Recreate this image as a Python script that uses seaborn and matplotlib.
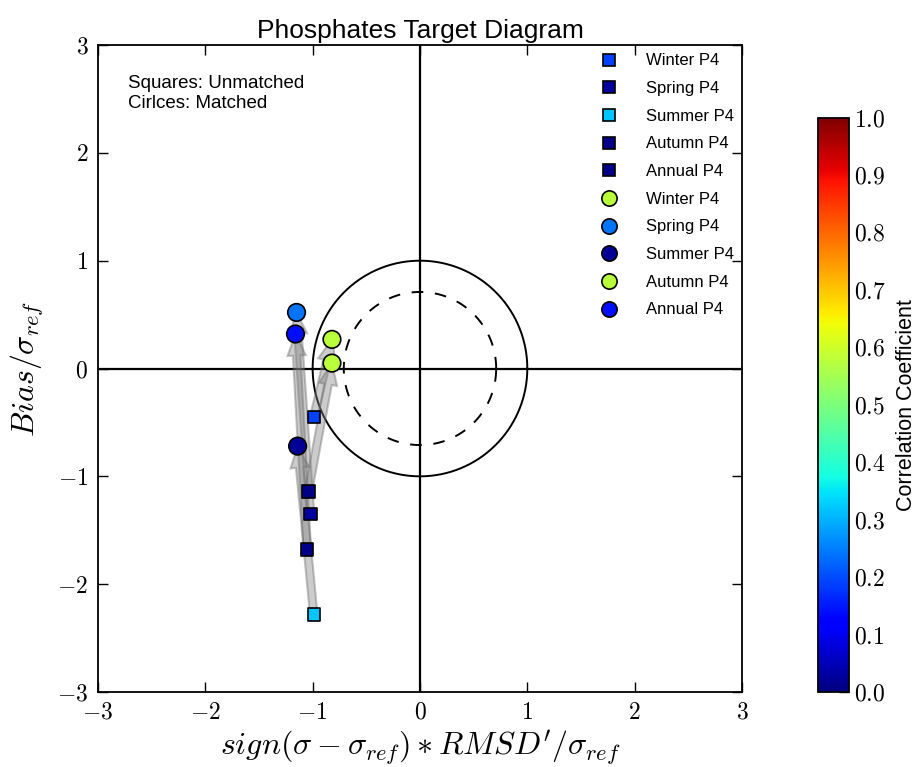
import numpy as np
import seaborn as sns
import matplotlib
matplotlib.use('Agg')
import matplotlib.pyplot as plt
from matplotlib.lines import Line2D
from matplotlib.ticker import FuncFormatter, MultipleLocator

# Target diagram values
seasons = ['Winter P4', 'Spring P4', 'Summer P4', 'Autumn P4', 'Annual P4']

# unmatched (squares)
rmsd_unmatched = [-0.99, -1.02, -0.99, -1.04, -1.05]
bias_unmatched = [-0.45, -1.35, -2.28, -1.14, -1.68]
corr_unmatched = [0.19, 0.03, 0.32, 0.01, 0.01]

# matched (circles)
rmsd_matched = [-0.82, -1.15, -1.14, -0.82, -1.16]
bias_matched = [0.27, 0.52, -0.72, 0.05, 0.32]
corr_matched = [0.575, 0.24, 0.02, 0.575, 0.14]

cbar_ticks = [0.0, 0.1, 0.2, 0.3, 0.4, 0.5, 0.6, 0.7, 0.8, 0.9, 1.0]

sns.set_style('ticks')
plt.rcParams['font.family'] = ['Liberation Sans', 'DejaVu Sans']
plt.rcParams['mathtext.fontset'] = 'cm'
plt.rcParams['xtick.direction'] = 'in'
plt.rcParams['ytick.direction'] = 'in'
plt.rcParams['xtick.top'] = True
plt.rcParams['ytick.right'] = True
for key in ['text.color', 'axes.labelcolor', 'xtick.color', 'ytick.color', 'axes.edgecolor']:
    plt.rcParams[key] = 'black'

cmap = plt.get_cmap('jet')
norm = plt.Normalize(0, 1)

fig = plt.figure(figsize=(9.2, 7.67), dpi=100)
ax = fig.add_axes([0.1065, 0.0978, 0.70, 0.8435])
cax = fig.add_axes([0.889, 0.0978, 0.034, 0.749])

# reference circles
t = np.linspace(0, 2 * np.pi, 400)
ax.plot(np.cos(t), np.sin(t), color='black', lw=1.4, zorder=2)
ax.plot(0.71 * np.cos(t), 0.71 * np.sin(t), color='black', lw=1.4, ls=(0, (6, 6)), zorder=2)
ax.axhline(0, color='black', lw=1.6, zorder=1)
ax.axvline(0, color='black', lw=1.6, zorder=1)

# arrows unmatched -> matched
for i in range(len(seasons)):
    dx = rmsd_matched[i] - rmsd_unmatched[i]
    dy = bias_matched[i] - bias_unmatched[i]
    ax.arrow(rmsd_unmatched[i], bias_unmatched[i], dx, dy, width=0.07,
             head_width=0.17, head_length=0.2, length_includes_head=True,
             facecolor='gray', edgecolor='dimgray', alpha=0.4, lw=1.5, zorder=3)

sns.scatterplot(x=rmsd_unmatched, y=bias_unmatched, hue=corr_unmatched,
                palette=cmap, hue_norm=norm, marker='s', s=80,
                edgecolor='black', linewidth=1.2, legend=False, ax=ax, zorder=4)
sns.scatterplot(x=rmsd_matched, y=bias_matched, hue=corr_matched,
                palette=cmap, hue_norm=norm, marker='o', s=160,
                edgecolor='black', linewidth=1.2, legend=False, ax=ax, zorder=4)

handles = []
for name, c in zip(seasons, corr_unmatched):
    handles.append(Line2D([], [], ls='none', marker='s', markersize=8,
                          markerfacecolor=cmap(norm(c)), markeredgecolor='black',
                          markeredgewidth=1.2, label=name))
for name, c in zip(seasons, corr_matched):
    handles.append(Line2D([], [], ls='none', marker='o', markersize=11,
                          markerfacecolor=cmap(norm(c)), markeredgecolor='black',
                          markeredgewidth=1.2, label=name))
ax.legend(handles=handles, loc='upper right', frameon=False, fontsize=12,
          handletextpad=1.2, labelspacing=0.76, borderaxespad=0.1)

ax.text(-2.72, 2.72, 'Squares: Unmatched\nCirlces: Matched', fontsize=13.5,
        va='top', ha='left')

ax.set_xlim(-3, 3)
ax.set_ylim(-3, 3)
ax.xaxis.set_major_locator(MultipleLocator(1))
ax.yaxis.set_major_locator(MultipleLocator(1))
fmt = FuncFormatter(lambda v, p: '$%d$' % round(v))
ax.xaxis.set_major_formatter(fmt)
ax.yaxis.set_major_formatter(fmt)
ax.tick_params(labelsize=17, length=7, width=1, pad=7, colors='black')
for s in ax.spines.values():
    s.set_linewidth(1.3)
    s.set_visible(True)
    s.set_color('black')

ax.set_title('Phosphates Target Diagram', fontsize=19, pad=5)
ax.set_xlabel(r"$sign(\sigma-\sigma_{ref})*RMSD'/\sigma_{ref}$", fontsize=23, labelpad=4)
ax.set_ylabel(r'$Bias/\sigma_{ref}$', fontsize=23, labelpad=8)

sm = plt.cm.ScalarMappable(cmap=cmap, norm=norm)
cb = fig.colorbar(sm, cax=cax, ticks=cbar_ticks)
cb.ax.yaxis.set_major_formatter(FuncFormatter(lambda v, p: '$%.1f$' % v))
cb.ax.tick_params(labelsize=17, direction='in', length=7, width=1, left=False,
                  right=True, colors='black')
cb.outline.set_linewidth(1.3)
cb.outline.set_edgecolor('black')
cb.set_label('Correlation Coefficient', fontsize=15.5, labelpad=7)

fig.savefig('out.png', dpi=100)
